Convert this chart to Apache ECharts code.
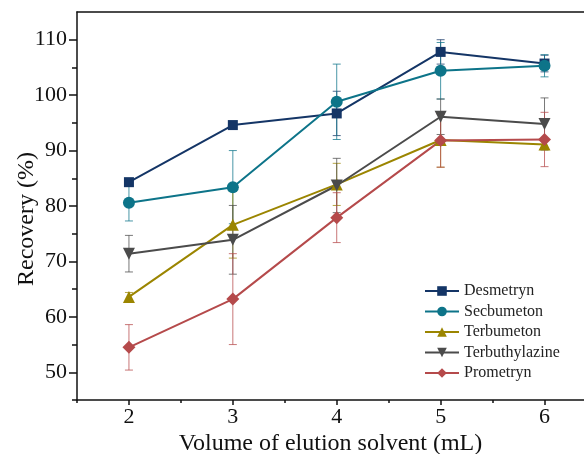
<!DOCTYPE html>
<html lang="en">
<head>
<meta charset="UTF-8">
<title>Recovery vs volume of elution solvent</title>
<script src="https://cdn.jsdelivr.net/npm/echarts@6/dist/echarts.min.js"></script>
<style>
    html, body { margin: 0; padding: 0; background: #fff; }
    #chart { width: 584px; height: 454px; }
</style>
</head>
<body>
<div id="chart"></div>
<script>
// data
var volumes = [2, 3, 4, 5, 6];
var seriesNames = ['Desmetryn', 'Secbumeton', 'Terbumeton', 'Terbuthylazine', 'Prometryn'];
var desmetryn = [84.3, 94.6, 96.7, 107.8, 105.7];
var desmetrynErr = [0.5, 0.5, 4.0, 2.2, 1.5];
var secbumeton = [80.6, 83.4, 98.8, 104.4, 105.3];
var secbumetonErr = [3.3, 6.6, 6.8, 5.1, 2.0];
var terbumeton = [63.6, 76.6, 83.9, 91.9, 91.1];
var terbumetonErr = [0.8, 6.0, 3.8, 4.9, 0.8];
var terbuthylazine = [71.4, 73.9, 83.7, 96.1, 94.8];
var terbuthylazineErr = [3.3, 6.2, 4.9, 3.2, 4.7];
var prometryn = [54.5, 63.2, 77.9, 91.8, 92.0];
var prometrynErr = [4.1, 8.2, 4.5, 4.8, 4.9];
// tick labels / tick positions
var yMajor = [50, 60, 70, 80, 90, 100, 110];
var yMinor = [45, 55, 65, 75, 85, 95, 105];
var xMajor = [2, 3, 4, 5, 6];
var xMinor = [1.5, 2.5, 3.5, 4.5, 5.5];

var values = [desmetryn, secbumeton, terbumeton, terbuthylazine, prometryn];
var errors = [desmetrynErr, secbumetonErr, terbumetonErr, terbuthylazineErr, prometrynErr];
var colors = ['#143566', '#0d7489', '#9b8500', '#4b4b4b', '#b54a4b'];
var symbols = ['rect', 'circle', 'triangle', 'triangle', 'diamond'];
var symbolSizes = [10, 12, 12, 12, 13];
var rotates = [0, 0, 0, 180, 0];

var serif = 'Liberation Serif';
var ink = '#111';

function errorRenderer(color) {
    return function (params, api) {
        var x = api.value(0);
        var lo = api.coord([x, api.value(1)]);
        var hi = api.coord([x, api.value(2)]);
        var w = 4;
        var style = { stroke: color, lineWidth: 1, opacity: 0.75 };
        return {
            type: 'group',
            children: [
                { type: 'line', shape: { x1: lo[0], y1: lo[1], x2: hi[0], y2: hi[1] }, style: style },
                { type: 'line', shape: { x1: lo[0] - w, y1: lo[1], x2: lo[0] + w, y2: lo[1] }, style: style },
                { type: 'line', shape: { x1: hi[0] - w, y1: hi[1], x2: hi[0] + w, y2: hi[1] }, style: style }
            ]
        };
    };
}

var series = [];
for (var i = 0; i < seriesNames.length; i++) {
    var errData = [];
    var lineData = [];
    for (var j = 0; j < volumes.length; j++) {
        errData.push([volumes[j], values[i][j] - errors[i][j], values[i][j] + errors[i][j]]);
        lineData.push([volumes[j], values[i][j]]);
    }
    series.push({
        type: 'custom',
        renderItem: errorRenderer(colors[i]),
        encode: { x: 0, y: [1, 2] },
        data: errData,
        z: 1,
        silent: true
    });
    series.push({
        name: seriesNames[i],
        type: 'line',
        data: lineData,
        symbol: symbols[i],
        symbolSize: symbolSizes[i],
        symbolRotate: rotates[i],
        lineStyle: { color: colors[i], width: 2 },
        itemStyle: { color: colors[i] },
        z: 2
    });
}

var chart = echarts.init(document.getElementById('chart'));
chart.setOption({
    animation: false,
    grid: { left: 77, right: 0, top: 12, bottom: 54, outerBoundsMode: 'none', containLabel: false },
    legend: {
        data: seriesNames,
        orient: 'vertical',
        left: 419,
        top: 278,
        itemWidth: 34,
        itemHeight: 12,
        itemGap: 4.5,
        textStyle: { fontFamily: serif, fontSize: 16, color: '#222' }
    },
    xAxis: [{
        type: 'value',
        min: 1.5,
        max: 6.38,
        name: 'Volume of elution solvent (mL)',
        nameLocation: 'middle',
        nameGap: 32,
        nameMoveOverlap: false,
        nameTextStyle: { fontFamily: serif, fontSize: 24, color: ink },
        axisLine: { lineStyle: { color: ink, width: 1.5 } },
        axisTick: { inside: false, length: 5, customValues: xMajor, lineStyle: { color: ink, width: 1.5 } },
        axisLabel: { fontFamily: serif, fontSize: 22, color: ink, margin: 6, customValues: xMajor },
        splitLine: { show: false }
    }, {
        // minor ticks on the bottom axis
        type: 'value',
        position: 'bottom',
        min: 1.5,
        max: 6.38,
        axisLine: { show: false },
        axisTick: { inside: false, length: 3, customValues: xMinor, lineStyle: { color: ink, width: 1.5 } },
        axisLabel: { show: false },
        splitLine: { show: false }
    }, {
        // top frame line
        type: 'value',
        position: 'top',
        min: 1.5,
        max: 6.38,
        axisLine: { lineStyle: { color: ink, width: 1.5 } },
        axisTick: { show: false },
        axisLabel: { show: false },
        splitLine: { show: false }
    }],
    yAxis: [{
        type: 'value',
        min: 45,
        max: 115,
        name: 'Recovery (%)',
        nameLocation: 'middle',
        nameGap: 38,
        nameMoveOverlap: false,
        nameRotate: 90,
        nameTextStyle: { fontFamily: serif, fontSize: 24, color: ink, padding: [0, 26, 0, 0] },
        axisLine: { show: true, lineStyle: { color: ink, width: 1.5 } },
        axisTick: { inside: false, length: 8, customValues: yMajor, lineStyle: { color: ink, width: 1.5 } },
        axisLabel: { fontFamily: serif, fontSize: 22, color: ink, margin: 10, customValues: yMajor },
        splitLine: { show: false }
    }, {
        // minor ticks on the left axis
        type: 'value',
        position: 'left',
        min: 45,
        max: 115,
        axisLine: { show: false },
        axisTick: { inside: false, length: 5, customValues: yMinor, lineStyle: { color: ink, width: 1.5 } },
        axisLabel: { show: false },
        splitLine: { show: false }
    }],
    series: series
});
</script>
</body>
</html>
